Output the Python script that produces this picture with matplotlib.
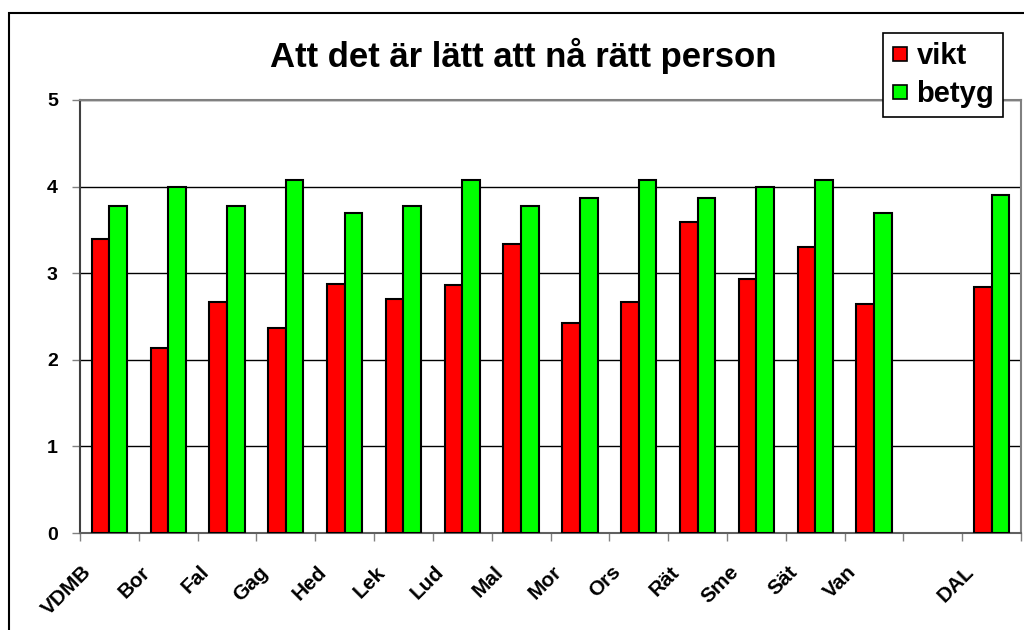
import numpy as np
import matplotlib
matplotlib.use("Agg")
import matplotlib.pyplot as plt
from matplotlib.patches import Rectangle
from matplotlib.lines import Line2D
import matplotlib.transforms as mtransforms

plt.rcParams['font.family'] = ['Liberation Sans', 'DejaVu Sans']

categories = ["VDMB", "Bor", "Fal", "Gag", "Hed", "Lek", "Lud", "Mal", "Mor",
              "Ors", "Rät", "Sme", "Sät", "Van", "", "DAL"]
vikt = [3.39, 2.14, 2.67, 2.37, 2.88, 2.70, 2.86, 3.34, 2.42,
        2.67, 3.59, 2.93, 3.30, 2.65, np.nan, 2.84]
betyg = [3.78, 4.00, 3.78, 4.08, 3.69, 3.78, 4.08, 3.78, 3.87,
         4.08, 3.87, 4.00, 4.08, 3.69, np.nan, 3.90]

fig = plt.figure(figsize=(10.24, 6.30), dpi=100)
ax = fig.add_axes([80/1024, 97/630, 941/1024, 433/630])

x = np.arange(len(categories))
w = 0.3
ax.bar(x - w/2, vikt, w, color='#FF0000', edgecolor='black', linewidth=1.5, zorder=3, label='vikt')
ax.bar(x + w/2, betyg, w, color='#00FF00', edgecolor='black', linewidth=1.5, zorder=3, label='betyg')

ax.set_xlim(-0.5, len(categories) - 0.5)
ax.set_ylim(0, 5)
ax.set_yticks([0, 1, 2, 3, 4, 5])
ax.yaxis.grid(True, color='black', linewidth=1)
ax.set_axisbelow(True)

ax.set_xticks(x)
ax.set_xticks(np.arange(-0.5, len(categories)), minor=True)
ax.tick_params(axis='x', which='major', length=0, pad=26)
ax.tick_params(axis='x', which='minor', length=6, color='#808080', width=1)
ax.tick_params(axis='y', length=6, color='#808080', width=1, pad=10, labelsize=14)
ax.set_xticklabels(categories, rotation=45, ha='right', va='center',
                   rotation_mode='anchor', fontsize=15, fontweight='bold')
offset = mtransforms.ScaledTranslation(-0.21, 0, fig.dpi_scale_trans)
for lab in ax.get_xticklabels():
    lab.set_transform(lab.get_transform() + offset)
for lab in ax.get_yticklabels():
    lab.set_fontweight('bold')

ax.spines['left'].set_color('#404040')
ax.spines['bottom'].set_color('#606060')
ax.spines['top'].set_color('#808080')
ax.spines['right'].set_color('#808080')
for s in ax.spines.values():
    s.set_linewidth(1.5)

handles = [Line2D([], [], marker='s', linestyle='none', markersize=10,
                  markerfacecolor=c, markeredgecolor='black', markeredgewidth=1.2)
           for c in ['#FF0000', '#00FF00']]
leg = ax.legend(handles, ['vikt', 'betyg'], loc='upper left',
                bbox_to_anchor=(883/1024, 1 - 33/630), bbox_transform=fig.transFigure,
                borderaxespad=0, fancybox=False, framealpha=1, edgecolor='black',
                prop={'weight': 'bold', 'size': 21}, handlelength=0.55,
                handletextpad=0.3, labelspacing=0.35, borderpad=0.3)
leg.get_frame().set_linewidth(1.2)
leg.set_zorder(10)

fig.text(523/1024, 1 - 56/630, "Att det är lätt att nå rätt person",
         ha='center', va='center', fontsize=25, fontweight='bold')

fig.patches.append(Rectangle((9/1024, -0.1), 1.2, 1 - 13/630 + 0.1,
                             transform=fig.transFigure, fill=False,
                             edgecolor='black', linewidth=1.5))

fig.savefig("out.png", dpi=100)
